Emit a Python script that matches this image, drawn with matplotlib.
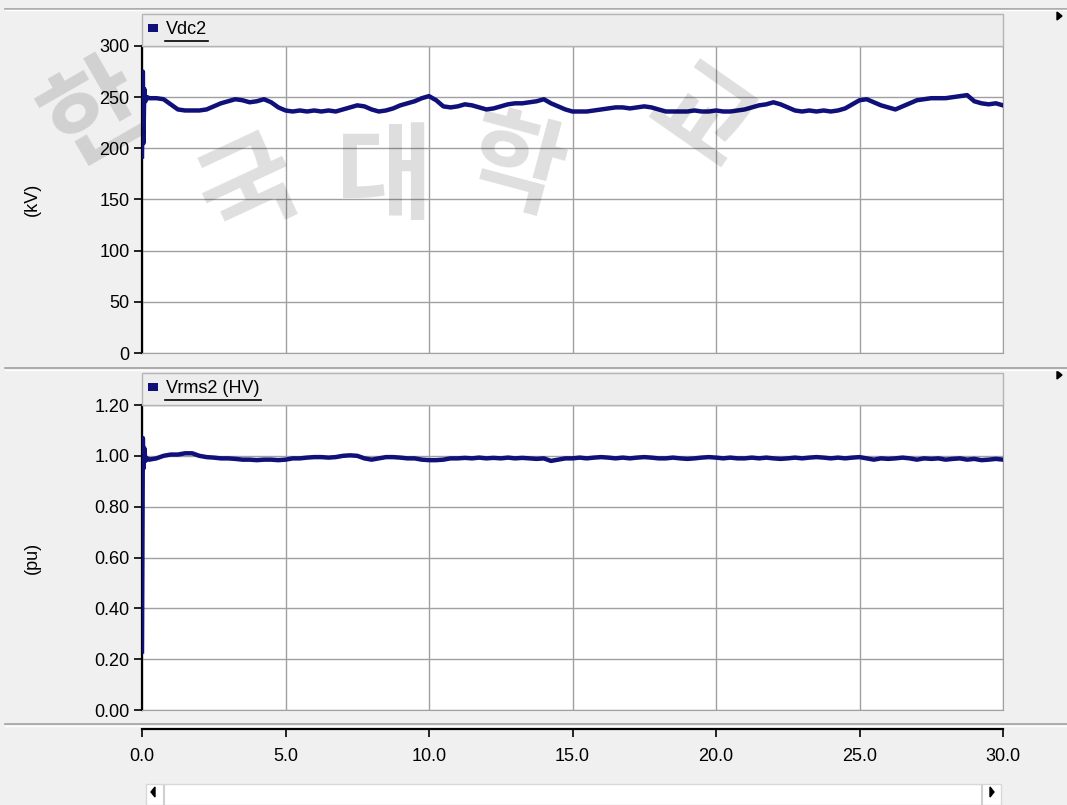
import numpy as np
import matplotlib.pyplot as plt
from matplotlib.patches import Rectangle, Polygon
from matplotlib.lines import Line2D

# dados (PSCAD)
t_ini = [0.0, 0.03, 0.05, 0.08, 0.12, 0.18]
vdc_ini = [192, 275, 205, 258, 246, 250]
vrms_ini = [0.23, 1.07, 0.95, 1.03, 0.98, 0.99]

# amostras a cada 0.25 s, de 0.25 a 30.0
t_amostra = np.arange(0.25, 30.001, 0.25)
vdc2 = [
    249, 249, 248, 243, 238, 237, 237, 237,
    238, 241, 244, 246, 248, 247, 245, 246,
    248, 245, 240, 237, 236, 237, 236, 237,
    236, 237, 236, 238, 240, 242, 241, 238,
    236, 237, 239, 242, 244, 246, 249, 251,
    247, 241, 240, 241, 243, 242, 240, 238,
    239, 241, 243, 244, 244, 245, 246, 248,
    244, 241, 238, 236, 236, 236, 237, 238,
    239, 240, 240, 239, 240, 241, 240, 238,
    236, 236, 236, 236, 237, 236, 236, 237,
    236, 236, 237, 238, 240, 242, 243, 245,
    243, 240, 237, 236, 237, 236, 237, 236,
    237, 239, 243, 247, 248, 245, 242, 240,
    238, 241, 244, 247, 248, 249, 249, 249,
    250, 251, 252, 246, 244, 243, 244, 242,
]
vrms2 = [
    0.985, 0.990, 1.000, 1.005, 1.005, 1.010, 1.010, 1.000,
    0.995, 0.993, 0.990, 0.990, 0.988, 0.985, 0.985, 0.983,
    0.985, 0.985, 0.983, 0.985, 0.990, 0.990, 0.993, 0.995,
    0.995, 0.993, 0.995, 1.000, 1.002, 1.000, 0.990, 0.985,
    0.990, 0.995, 0.995, 0.993, 0.990, 0.990, 0.985, 0.983,
    0.983, 0.985, 0.990, 0.990, 0.992, 0.990, 0.993, 0.990,
    0.992, 0.990, 0.993, 0.990, 0.992, 0.990, 0.988, 0.990,
    0.980, 0.985, 0.990, 0.990, 0.993, 0.990, 0.993, 0.995,
    0.993, 0.990, 0.993, 0.990, 0.993, 0.995, 0.993, 0.990,
    0.990, 0.993, 0.990, 0.988, 0.990, 0.993, 0.995, 0.993,
    0.990, 0.993, 0.990, 0.990, 0.993, 0.990, 0.993, 0.990,
    0.988, 0.990, 0.993, 0.990, 0.993, 0.995, 0.993, 0.990,
    0.993, 0.990, 0.993, 0.995, 0.990, 0.985, 0.990, 0.988,
    0.990, 0.993, 0.990, 0.985, 0.990, 0.988, 0.990, 0.985,
    0.988, 0.990, 0.985, 0.988, 0.983, 0.985, 0.988, 0.985,
]

t = np.concatenate([t_ini, t_amostra])
vdc = np.concatenate([vdc_ini, vdc2])
vrms = np.concatenate([vrms_ini, vrms2])

x_ticks = [0, 5, 10, 15, 20, 25, 30]
W, H = 1067, 805
fundo = '#f0f0f0'
cinza = '#a0a0a0'
azul = '#10107a'
fonte = 'Liberation Sans'
fs = 13


def fx(x):
    return x / W


def fy(y):
    return 1 - y / H


fig = plt.figure(figsize=(W / 100, H / 100), dpi=100, facecolor=fundo)


def painel(topo, base, dados, ylim, yticks, ylabels, nome, ylabel):
    ax = fig.add_axes([fx(142), fy(base), fx(1003) - fx(142), fy(topo) - fy(base)])
    ax.plot(t, dados, color=azul, lw=3.2, zorder=3)
    ax.set_xlim(0, 30)
    ax.set_ylim(*ylim)
    ax.set_xticks(x_ticks)
    ax.set_yticks(yticks)
    ax.set_yticklabels(ylabels, fontfamily=fonte, fontsize=fs)
    ax.tick_params(axis='x', length=0, labelbottom=False)
    ax.tick_params(axis='y', direction='out', length=6, width=1.2, color='black', pad=3)
    ax.grid(True, color=cinza, lw=1)
    for s in ['top', 'right', 'bottom']:
        ax.spines[s].set_color(cinza)
    ax.spines['left'].set_color('black')
    ax.spines['left'].set_linewidth(1.6)
    # faixa da legenda
    fig.add_artist(Rectangle((fx(142), fy(topo)), fx(1003) - fx(142), fy(topo - 32) - fy(topo),
                             transform=fig.transFigure, facecolor='#ededed', edgecolor='#b4b4b4', lw=1))
    fig.add_artist(Rectangle((fx(148), fy(topo - 14)), fx(10), fy(topo - 22) - fy(topo - 14),
                             transform=fig.transFigure, facecolor=azul, edgecolor='none'))
    txt = fig.text(fx(166), fy(topo - 17), nome, fontfamily=fonte, fontsize=fs, va='center', color='black')
    fig.canvas.draw()
    bb = txt.get_window_extent()
    fig.add_artist(Line2D([fx(165), (bb.x1 + 1) / W], [fy(topo - 5), fy(topo - 5)],
                          transform=fig.transFigure, color='black', lw=1.2))
    fig.text(fx(32), (fy(topo) + fy(base)) / 2, ylabel, rotation=90, fontfamily=fonte,
             fontsize=fs, ha='center', va='center')
    # seta no canto direito
    fig.add_artist(Polygon([[fx(1057), fy(topo - 34)], [fx(1057), fy(topo - 26)], [fx(1062), fy(topo - 30)]],
                           closed=True, transform=fig.transFigure, color='black'))
    return ax


ax1 = painel(46, 353, vdc, (0, 300), [0, 50, 100, 150, 200, 250, 300],
             ['0', '50', '100', '150', '200', '250', '300'], 'Vdc2', '(kV)')
ax2 = painel(405, 710, vrms, (0, 1.2), [0, 0.2, 0.4, 0.6, 0.8, 1.0, 1.2],
             ['0.00', '0.20', '0.40', '0.60', '0.80', '1.00', '1.20'], 'Vrms2 (HV)', '(pu)')

# linhas separadoras
for y in [9, 368, 724]:
    fig.add_artist(Line2D([fx(5), 1], [fy(y), fy(y)], transform=fig.transFigure, color=cinza, lw=1.2))
    fig.add_artist(Line2D([fx(5), 1], [fy(y + 1.5), fy(y + 1.5)], transform=fig.transFigure, color='white', lw=1))

# eixo x separado
ax3 = fig.add_axes([fx(142), fy(729), fx(1003) - fx(142), 0.0001])
ax3.set_xlim(0, 30)
ax3.set_xticks(x_ticks)
ax3.set_xticklabels(['%.1f' % v for v in x_ticks], fontfamily=fonte, fontsize=fs)
ax3.tick_params(axis='x', direction='out', length=6, width=1.2, pad=8)
ax3.set_yticks([])
ax3.patch.set_visible(False)
for s in ['top', 'right', 'left']:
    ax3.spines[s].set_visible(False)
ax3.spines['bottom'].set_linewidth(1.6)

# barra de rolagem
fig.add_artist(Rectangle((fx(146), fy(805)), fx(1001) - fx(146), fy(784) - fy(805),
                         transform=fig.transFigure, facecolor='white', edgecolor='#d8d8d8', lw=1))
fig.add_artist(Line2D([fx(164), fx(164)], [fy(786), fy(805)], transform=fig.transFigure, color='#d0d0d0'))
fig.add_artist(Line2D([fx(982), fx(982)], [fy(786), fy(805)], transform=fig.transFigure, color='#d0d0d0'))
fig.add_artist(Polygon([[fx(155), fy(787)], [fx(155), fy(797)], [fx(151), fy(792)]],
                       closed=True, transform=fig.transFigure, color='black'))
fig.add_artist(Polygon([[fx(990), fy(787)], [fx(990), fy(797)], [fx(994), fy(792)]],
                       closed=True, transform=fig.transFigure, color='black'))

# marca d'agua
marca = [('한', 95, 115, 30), ('국', 250, 190, 25), ('대', 385, 180, 0), ('학', 515, 170, -15), ('교', 700, 120, -35)]
for ch, x, y, r in marca:
    fig.text(fx(x), fy(y), ch, fontfamily='Noto Sans CJK KR', fontweight='bold', fontsize=76,
             color='black', alpha=0.13, rotation=r, ha='center', va='center', zorder=10)

fig.savefig('out.png', dpi=100, facecolor=fundo)
